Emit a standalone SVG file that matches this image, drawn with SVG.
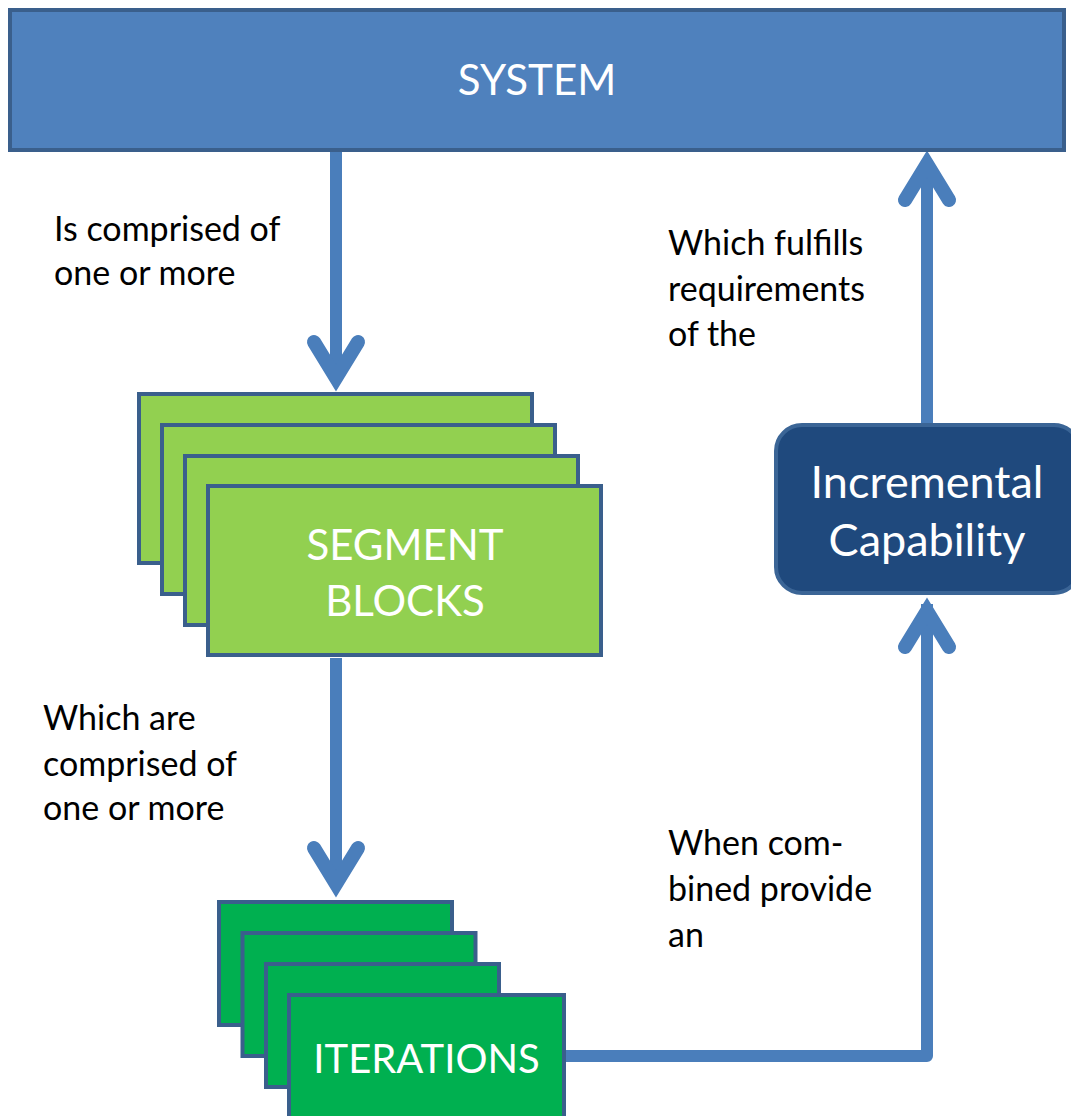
<svg xmlns="http://www.w3.org/2000/svg" width="1071" height="1116" viewBox="0 0 1071 1116">
<style>
.box{stroke:#3A5F8C;stroke-width:4}
.sys{fill:#4F81BD}
.seg{fill:#92D050}
.itr{fill:#00B050}
.inc{fill:#1F497D;stroke:#3B6596;stroke-width:4}
.bt{font-family:Lato,"Open Sans",sans-serif;font-size:42px;fill:#FFFFFF;text-anchor:middle}
.big{font-size:45px}
.sm{font-size:40px}
.lbl{font-family:Lato,"Open Sans",sans-serif;font-size:34px;fill:#000000}
.line{fill:none;stroke:#4A7EBB;stroke-width:12}
.head{fill:none;stroke:#4A7EBB;stroke-width:14;stroke-linecap:round;stroke-linejoin:miter;stroke-miterlimit:10}
</style>
<rect width="1071" height="1116" fill="#FFFFFF"/>
<g id="connectors">
<line class="line" x1="336" y1="150" x2="336" y2="380"/>
<polyline class="head" points="314,342 336,378 358,342"/>
<line class="line" x1="336" y1="658" x2="336" y2="886"/>
<polyline class="head" points="314,848 336,884 358,848"/>
<polyline class="line" style="stroke-linejoin:round" points="564,1056 927,1056 927,604"/>
<polyline class="head" points="905,647 927,611 949,647"/>
<line class="line" x1="927" y1="425" x2="927" y2="160"/>
<polyline class="head" points="905,200 927,164 949,200"/>
</g>
<g id="system">
<rect class="box sys" x="10" y="10" width="1054" height="140"/>
<text class="bt" x="537" y="95">SYSTEM</text>
</g>
<g id="segment-blocks">
<rect class="box seg" x="139" y="394" width="393" height="169"/>
<rect class="box seg" x="162" y="425" width="393" height="169"/>
<rect class="box seg" x="185" y="456" width="393" height="169"/>
<rect class="box seg" x="208" y="486" width="393" height="169"/>
<text class="bt" x="405" y="560">SEGMENT</text>
<text class="bt" x="405" y="616">BLOCKS</text>
</g>
<g id="iterations">
<rect class="box itr" x="219" y="902" width="233" height="123"/>
<rect class="box itr" x="242.5" y="933" width="233" height="123"/>
<rect class="box itr" x="266" y="964" width="233" height="123"/>
<rect class="box itr" x="289" y="995" width="275" height="140"/>
<text class="bt sm" x="426.5" y="1073">ITERATIONS</text>
</g>
<g id="incremental-capability">
<rect class="inc" x="776" y="425" width="304" height="168" rx="26" ry="26"/>
<text class="bt big" x="927" y="498">Incremental</text>
<text class="bt big" x="927" y="556">Capability</text>
</g>
<g id="labels">
<text class="lbl" x="54" y="241">Is comprised of</text>
<text class="lbl" x="54" y="285">one or more</text>
<text class="lbl" x="668" y="255">Which fulfills</text>
<text class="lbl" x="668" y="301">requirements</text>
<text class="lbl" x="668" y="346">of the</text>
<text class="lbl" x="43" y="730">Which are</text>
<text class="lbl" x="43" y="776">comprised of</text>
<text class="lbl" x="43" y="820">one or more</text>
<text class="lbl" x="668" y="855">When com-</text>
<text class="lbl" x="668" y="901">bined provide</text>
<text class="lbl" x="668" y="947">an</text>
</g>
</svg>
